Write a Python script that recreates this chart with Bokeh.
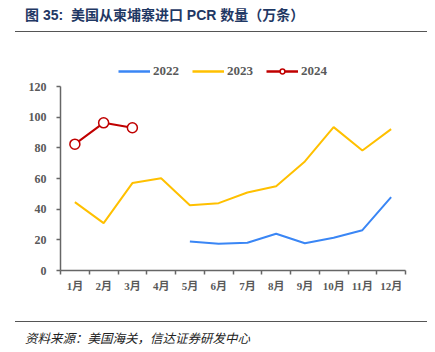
from bokeh.plotting import figure
from bokeh.models import Range1d, FixedTicker, Legend, LegendItem, Div
from bokeh.layouts import column
from bokeh.embed import file_html
from bokeh.resources import INLINE

# ---- data ----
months = ["1月", "2月", "3月", "4月", "5月", "6月", "7月", "8月", "9月", "10月", "11月", "12月"]
x2022 = [5, 6, 7, 8, 9, 10, 11, 12]
y2022 = [18.9, 17.4, 18.1, 24.0, 17.8, 21.3, 26.3, 47.8]
x2023 = [1, 2, 3, 4, 5, 6, 7, 8, 9, 10, 11, 12]
y2023 = [44.6, 30.9, 57.0, 60.2, 42.6, 43.9, 50.9, 55.0, 71.1, 93.5, 78.3, 92.2]
x2024 = [1, 2, 3]
y2024 = [82.4, 96.3, 93.1]
yticks = [0, 20, 40, 60, 80, 100, 120]
series_names = ["2022", "2023", "2024"]

title_text = "图 35:&nbsp;&nbsp;美国从柬埔寨进口 PCR 数量（万条）"
source_text = "资料来源：美国海关，信达证券研发中心"

C22, C23, C24 = "#3a86f5", "#ffc000", "#c00000"
AX = "#666666"
TXT = "#595959"
SERIF = "'Liberation Serif', 'Noto Sans CJK SC'"
W = 435
NAN = float("nan")

# ---- header: title + rule ----
header = Div(
    text=(f'<div style="margin-left:25px;height:31px;display:flex;align-items:center;'
          f'font-family:\'Liberation Sans\',\'Noto Sans CJK SC\';font-weight:bold;'
          f'font-size:14px;color:#1f3864;white-space:nowrap;padding-bottom:1px;box-sizing:border-box">{title_text}</div>'
          f'<div style="margin-left:15px;width:412px;height:0;border-top:1px solid #555555"></div>'),
    width=W, height=40, margin=0)

# ---- legend strip ----
leg = figure(width=W, height=39, output_backend="svg", toolbar_location=None,
             x_range=Range1d(0, 1), y_range=Range1d(0, 1),
             x_axis_type=None, y_axis_type=None,
             min_border_left=60, min_border_right=30, min_border_top=0,
             min_border_bottom=0)
leg.outline_line_color = None
leg.grid.visible = False
k22 = leg.line([NAN], [NAN], line_color=C22, line_width=2.5)
k23 = leg.line([NAN], [NAN], line_color=C23, line_width=2.5)
k24 = leg.line([NAN], [NAN], line_color=C24, line_width=2.5)
k24m = leg.scatter([NAN], [NAN], marker="circle", size=7, line_color=C24,
                   line_width=1.5, fill_color="white")
legend = Legend(items=[LegendItem(label=series_names[0], renderers=[k22]),
                       LegendItem(label=series_names[1], renderers=[k23]),
                       LegendItem(label=series_names[2], renderers=[k24, k24m])],
                orientation="horizontal", location=(58, 0),
                glyph_width=32, glyph_height=12, label_height=12,
                label_standoff=3, spacing=13, padding=0, margin=0,
                border_line_color=None, background_fill_alpha=0,
                label_text_font="Liberation Serif", label_text_font_style="bold",
                label_text_font_size="13px", label_text_color=TXT)
leg.add_layout(legend)

# ---- main chart ----
p = figure(width=W, height=237, output_backend="svg", toolbar_location=None,
           x_range=Range1d(0.5, 12.5), y_range=Range1d(0, 120),
           min_border_left=60, min_border_right=30, min_border_top=7,
           min_border_bottom=46)
p.outline_line_color = None
p.grid.visible = False

xa = p.xaxis[0]
xa.ticker = FixedTicker(ticks=x2023, minor_ticks=[i + 0.5 for i in range(0, 13)])
xa.major_label_overrides = {i + 1: m for i, m in enumerate(months)}
xa.major_tick_line_color = None
xa.major_tick_out = 0
xa.major_tick_in = 0
xa.minor_tick_out = 4
xa.minor_tick_in = 0
xa.minor_tick_line_color = AX
xa.minor_tick_line_width = 1.5
xa.axis_line_color = AX
xa.axis_line_width = 1.5
xa.major_label_standoff = 5
xa.major_label_text_font = SERIF
xa.major_label_text_font_style = "bold"
xa.major_label_text_font_size = "11px"
xa.major_label_text_color = TXT

ya = p.yaxis[0]
ya.ticker = FixedTicker(ticks=yticks, minor_ticks=[])
ya.major_tick_out = 4
ya.major_tick_in = 0
ya.major_tick_line_color = AX
ya.major_tick_line_width = 1.5
ya.axis_line_color = AX
ya.axis_line_width = 1.5
ya.major_label_standoff = 10
ya.major_label_text_font = "Liberation Serif"
ya.major_label_text_font_style = "bold"
ya.major_label_text_font_size = "12px"
ya.major_label_text_color = TXT

p.line(x2022, y2022, line_color=C22, line_width=2)
p.line(x2023, y2023, line_color=C23, line_width=2)
p.line(x2024, y2024, line_color=C24, line_width=2)
p.scatter(x2024, y2024, marker="circle", size=10, line_color=C24,
          line_width=1.5, fill_color="white")

# ---- footer: rule + source ----
footer = Div(
    text=(f'<div style="margin-left:15px;margin-top:5px;width:412px;height:0;border-top:1px solid #555555"></div>'
          f'<div style="margin-left:25px;height:31px;display:flex;align-items:center;'
          f'font-family:\'Noto Sans CJK SC\';font-style:italic;font-size:12.5px;color:#222222;'
          f'white-space:nowrap">{source_text}</div>'),
    width=W, height=36, margin=0)

layout = column(header, leg, p, footer, spacing=0)
open("out.html", "w").write(file_html(layout, INLINE))
